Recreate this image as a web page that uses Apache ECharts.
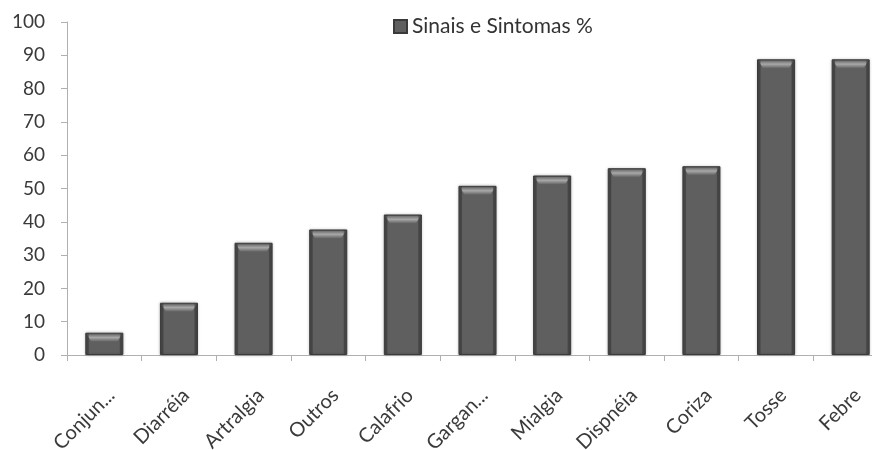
<!DOCTYPE html>
<html>
<head>
<meta charset="utf-8">
<script src="https://cdn.jsdelivr.net/npm/echarts@6/dist/echarts.min.js"></script>
<style>
  html, body { margin: 0; padding: 0; background: #fff; }
  #chart { width: 872px; height: 450px; }
</style>
</head>
<body>
<div id="chart"></div>
<script>
// Sinais e sintomas relatados (%)
const categories = ['Conjun...', 'Diarréia', 'Artralgia', 'Outros', 'Calafrio', 'Gargan...', 'Mialgia', 'Dispnéia', 'Coriza', 'Tosse', 'Febre'];
const values = [6.7, 15.7, 33.7, 37.7, 42.2, 50.8, 53.9, 56.1, 56.7, 88.8, 88.8];
const seriesName = 'Sinais e Sintomas %';

const FONT = 'Lato, "Open Sans", sans-serif';
const BAR_RATIO = 0.51;

const chart = echarts.init(document.getElementById('chart'), null, { renderer: 'canvas' });

// Bevel highlight drawn on top of each bar
function bevel(params, api) {
  const idx = api.value(0);
  const v = api.value(1);
  const top = api.coord([idx, v]);
  const base = api.coord([idx, 0]);
  const w = api.size([1, 0])[0] * BAR_RATIO;
  const x0 = top[0] - w / 2;
  const x1 = top[0] + w / 2;
  const y0 = top[1];
  const h = base[1] - y0;
  const bh = Math.min(9, h * 0.45);
  return {
    type: 'group',
    children: [
      {
        type: 'polygon',
        shape: { points: [[x0 + 1.5, y0 + 1.5], [x1 - 1.5, y0 + 1.5], [x1 - 6, y0 + bh], [x0 + 6, y0 + bh]] },
        style: {
          fill: new echarts.graphic.LinearGradient(0, 0, 0, 1, [
            { offset: 0, color: '#6e6e6e' },
            { offset: 0.45, color: '#a8a8a8' },
            { offset: 1, color: '#626262' }
          ])
        }
      },
      {
        type: 'rect',
        shape: { x: x0 + 1, y: y0 + 1, width: 2.5, height: Math.max(0, h - 2) },
        style: { fill: 'rgba(40,40,40,0.45)' }
      },
      {
        type: 'rect',
        shape: { x: x1 - 3.5, y: y0 + 1, width: 2.5, height: Math.max(0, h - 2) },
        style: { fill: 'rgba(40,40,40,0.45)' }
      }
    ]
  };
}

chart.setOption({
  animation: false,
  backgroundColor: '#ffffff',
  legend: {
    data: [{ name: seriesName, icon: 'rect' }],
    left: 388,
    top: 11,
    itemWidth: 13,
    itemHeight: 13,
    itemGap: 4,
    textStyle: { fontFamily: FONT, fontSize: 21, color: '#333333' }
  },
  grid: {
    left: 67, top: 22, width: 821, height: 333,
    containLabel: false,
    outerBoundsMode: 'none'
  },
  xAxis: {
    type: 'category',
    data: categories,
    boundaryGap: true,
    axisLine: { lineStyle: { color: '#b0b0b0', width: 1 } },
    axisTick: { show: true, alignWithLabel: false, length: 6, lineStyle: { color: '#b0b0b0' } },
    axisLabel: {
      interval: 0,
      rotate: 45,
      margin: 30,
      align: 'right',
      verticalAlign: 'top',
      fontFamily: FONT,
      fontSize: 20,
      color: '#3a3a3a'
    },
    splitLine: { show: false }
  },
  yAxis: {
    type: 'value',
    min: 0,
    max: 100,
    interval: 10,
    axisLine: { show: true, lineStyle: { color: '#b0b0b0', width: 1 } },
    axisTick: { show: true, length: 6, lineStyle: { color: '#b0b0b0' } },
    axisLabel: { margin: 22, fontFamily: FONT, fontSize: 19, color: '#3a3a3a' },
    splitLine: { show: false }
  },
  series: [
    {
      name: seriesName,
      type: 'bar',
      data: values,
      barWidth: (BAR_RATIO * 100) + '%',
      itemStyle: {
        color: '#5f5f5f',
        borderColor: '#3a3a3a',
        borderWidth: 1,
        shadowColor: 'rgba(0,0,0,0.25)',
        shadowBlur: 3
      }
    },
    {
      name: 'bevel',
      type: 'custom',
      silent: true,
      renderItem: bevel,
      data: values.map((v, i) => [i, v]),
      z: 3
    }
  ]
});
</script>
</body>
</html>
